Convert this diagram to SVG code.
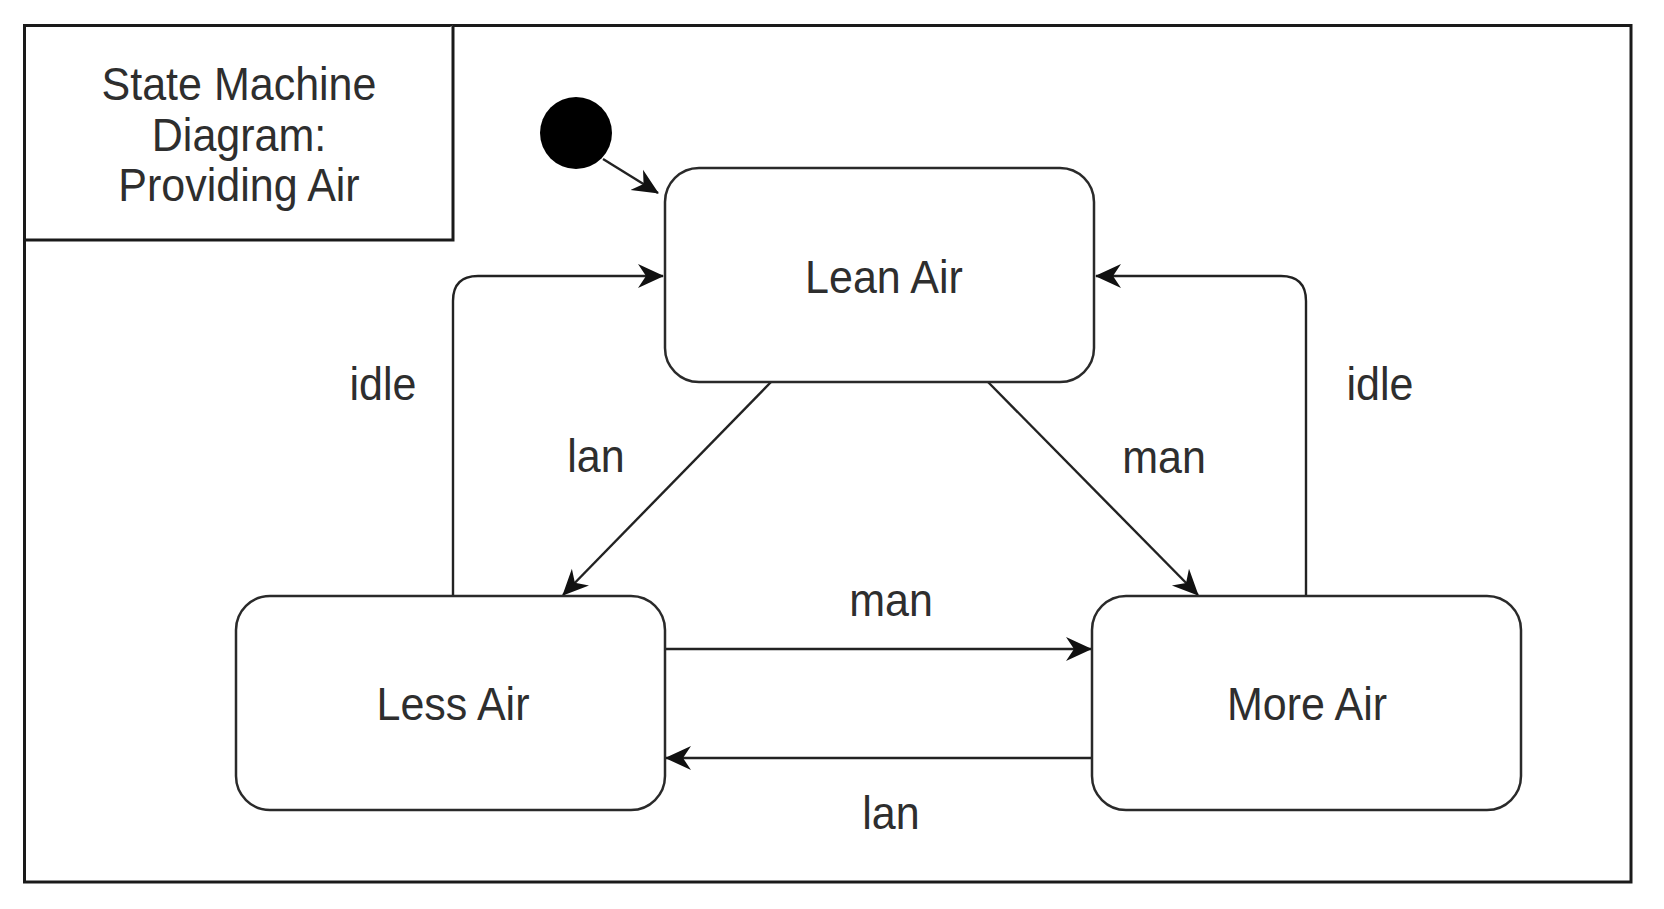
<svg xmlns="http://www.w3.org/2000/svg" width="1664" height="909" viewBox="0 0 1664 909">
<style>
.frame{fill:#fff;stroke:#1a1a1a;stroke-width:3}
.state{fill:#fff;stroke:#2a2a2a;stroke-width:2.5}
.edge{fill:none;stroke:#222;stroke-width:2.4}
.t{font-family:"Liberation Sans",Arial,sans-serif;font-size:43px;fill:#2e2e2e;text-anchor:middle;dominant-baseline:central}
</style>
<defs>
<marker id="arrL" viewBox="0 0 26 26" refX="25" refY="13" markerWidth="26" markerHeight="26" markerUnits="userSpaceOnUse" orient="auto">
<path d="M0,1 L26,13 L0,25 L8,13 z" fill="#111"/>
</marker>
</defs>
<rect width="1664" height="909" fill="#fff"/>
<g id="frame">
<rect class="frame" x="24.5" y="25.5" width="1606.5" height="856.5"/>
<path class="frame" d="M24.5,240 H453 V25.5" fill="none"/>
<text class="t" transform="translate(239,83) scale(1,1.08)">State Machine</text>
<text class="t" transform="translate(239,134) scale(1,1.08)">Diagram:</text>
<text class="t" transform="translate(239,184) scale(1,1.08)">Providing Air</text>
</g>
<g id="connectors">
<path class="edge" d="M603,159 L658,193" marker-end="url(#arrL)"/>
<path class="edge" d="M453,596 V301 Q453,276 478,276 H663" marker-end="url(#arrL)"/>
<path class="edge" d="M1306,596 V301 Q1306,276 1281,276 H1096" marker-end="url(#arrL)"/>
<path class="edge" d="M771,382 L563,595" marker-end="url(#arrL)"/>
<path class="edge" d="M988,382 L1198,595" marker-end="url(#arrL)"/>
<path class="edge" d="M665,649 H1091" marker-end="url(#arrL)"/>
<path class="edge" d="M1092,758 H666" marker-end="url(#arrL)"/>
<text class="t" transform="translate(383,383) scale(1,1.08)">idle</text>
<text class="t" transform="translate(596,455) scale(1,1.08)">lan</text>
<text class="t" transform="translate(1164,456) scale(1,1.08)">man</text>
<text class="t" transform="translate(1380,383) scale(1,1.08)">idle</text>
<text class="t" transform="translate(891,599) scale(1,1.08)">man</text>
<text class="t" transform="translate(891,812) scale(1,1.08)">lan</text>
</g>
<g id="initial">
<circle cx="576" cy="133" r="36" fill="#000"/>
</g>
<g id="lean-air">
<rect class="state" x="665" y="168" width="429" height="214" rx="34" ry="34"/>
<text class="t" transform="translate(884,276) scale(1,1.08)">Lean Air</text>
</g>
<g id="less-air">
<rect class="state" x="236" y="596" width="429" height="214" rx="34" ry="34"/>
<text class="t" transform="translate(453,703) scale(1,1.08)">Less Air</text>
</g>
<g id="more-air">
<rect class="state" x="1092" y="596" width="429" height="214" rx="34" ry="34"/>
<text class="t" transform="translate(1307,703) scale(1,1.08)">More Air</text>
</g>
</svg>
